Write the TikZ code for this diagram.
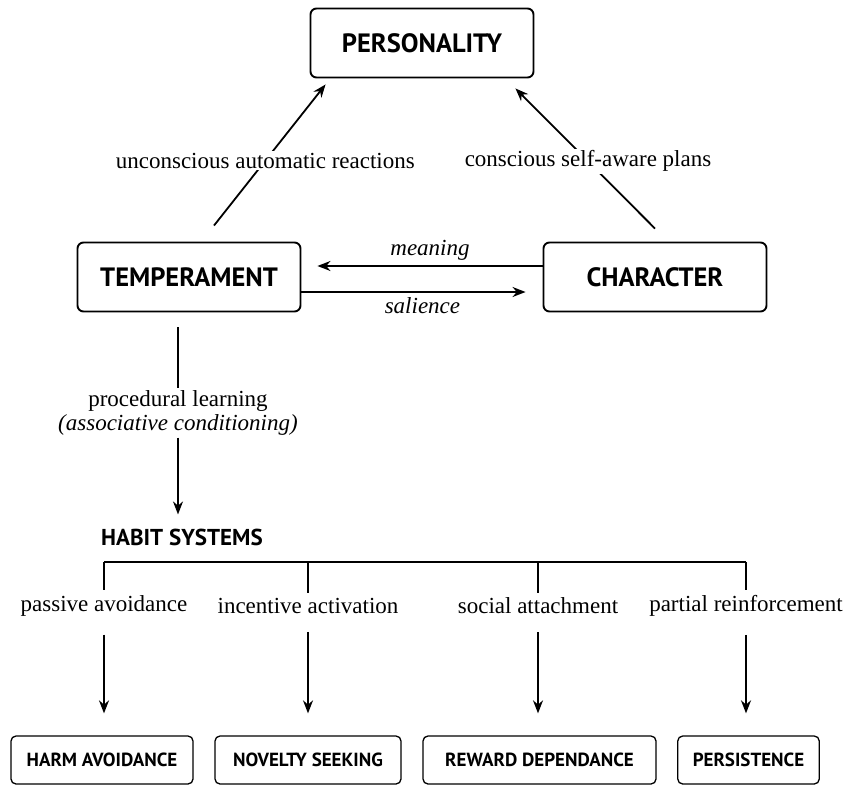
\documentclass[tikz,border=0pt]{standalone}
\usepackage{fontspec}
\setmainfont{Liberation Serif}
\newfontfamily\boxfont{PT Sans}
\usetikzlibrary{positioning,calc,arrows.meta}

\tikzset{
    bigbox/.style={draw,line width=1.9pt,rounded corners=6pt,minimum width=223pt,minimum height=69pt,
        font=\boxfont\bfseries\fontsize{26.5}{30}\selectfont},
    smallbox/.style={draw,line width=1.3pt,rounded corners=5pt,minimum height=48pt,inner xsep=15pt,
        font=\boxfont\bfseries\fontsize{19}{22}\selectfont},
    lbl/.style={font=\fontsize{23}{24}\selectfont,inner sep=2pt},
    itlbl/.style={font=\fontsize{23}{24}\selectfont\itshape,inner sep=2pt},
    arr/.style={-{Stealth[length=13pt,width=10pt]},line width=1.8pt},
    plain/.style={line width=1.8pt},
}

\begin{document}
\begin{tikzpicture}[x=1pt,y=-1pt]
    \useasboundingbox (0,0) rectangle (845,784);

    \node [bigbox] (pers) at (422,43) {PERSONALITY};
    \node [bigbox] (temp) at (189,277) {TEMPERAMENT};
    \node [bigbox] (char) at (655,277) {CHARACTER};

    \draw [arr] ($(temp.north)+(25,-16)$) -- node[lbl,fill=white,pos=0.46] {unconscious automatic reactions} ($(pers.south west)+(16,6)$);
    \draw [arr] ($(char.north)+(0,-13)$) -- node[lbl,fill=white,pos=0.48] {conscious self-aware plans} ($(pers.south east)+(-19,10)$);

    \draw [arr] ([yshift=11pt]char.west) -- node[itlbl,above=3pt] {meaning} ([yshift=11pt,xshift=16pt]temp.east);
    \draw [arr] ([yshift=-15pt]temp.east) -- node[itlbl,below=3pt,pos=0.54] {salience} ([yshift=-15pt,xshift=-17pt]char.west);

    \node [lbl,align=center] (proc) at (178,413) {procedural learning\\\textit{(associative conditioning)}};
    \node [anchor=west,inner sep=0pt,font=\boxfont\bfseries\fontsize{23}{28}\selectfont] (habit) at (101,537) {HABIT SYSTEMS};
    \draw [plain,shorten <=15pt] (proc.north |- temp.south) -- (proc.north);
    \draw [arr,shorten >=14pt] (proc.south) -- (proc.south |- habit.north);

    \node [lbl] (pa) at (104,606) {passive avoidance};
    \node [lbl] (ia) at (308,606) {incentive activation};
    \node [lbl] (sa) at (538,606) {social attachment};
    \node [lbl] (pr) at (746,606) {partial reinforcement};

    \node [smallbox,minimum width=182pt] (harm) at (102,760) {HARM AVOIDANCE};
    \node [smallbox,minimum width=186pt] (novelty) at (308,760) {NOVELTY SEEKING};
    \node [smallbox,minimum width=233pt] (reward) at (539.5,760) {REWARD DEPENDANCE};
    \node [smallbox,minimum width=141pt] (persist) at (748.5,760) {PERSISTENCE};

    \coordinate (bar) at (0,562);
    \draw [plain] (pa |- bar) -- (pr |- bar);
    \foreach \l/\b in {pa/harm,ia/novelty,sa/reward,pr/persist} {
        \draw [plain,shorten >=3pt] (\l |- bar) -- (\l.north);
        \draw [arr,shorten <=16pt,shorten >=22pt] (\l.south) -- (\l.south |- \b.north);
    }
\end{tikzpicture}
\end{document}
